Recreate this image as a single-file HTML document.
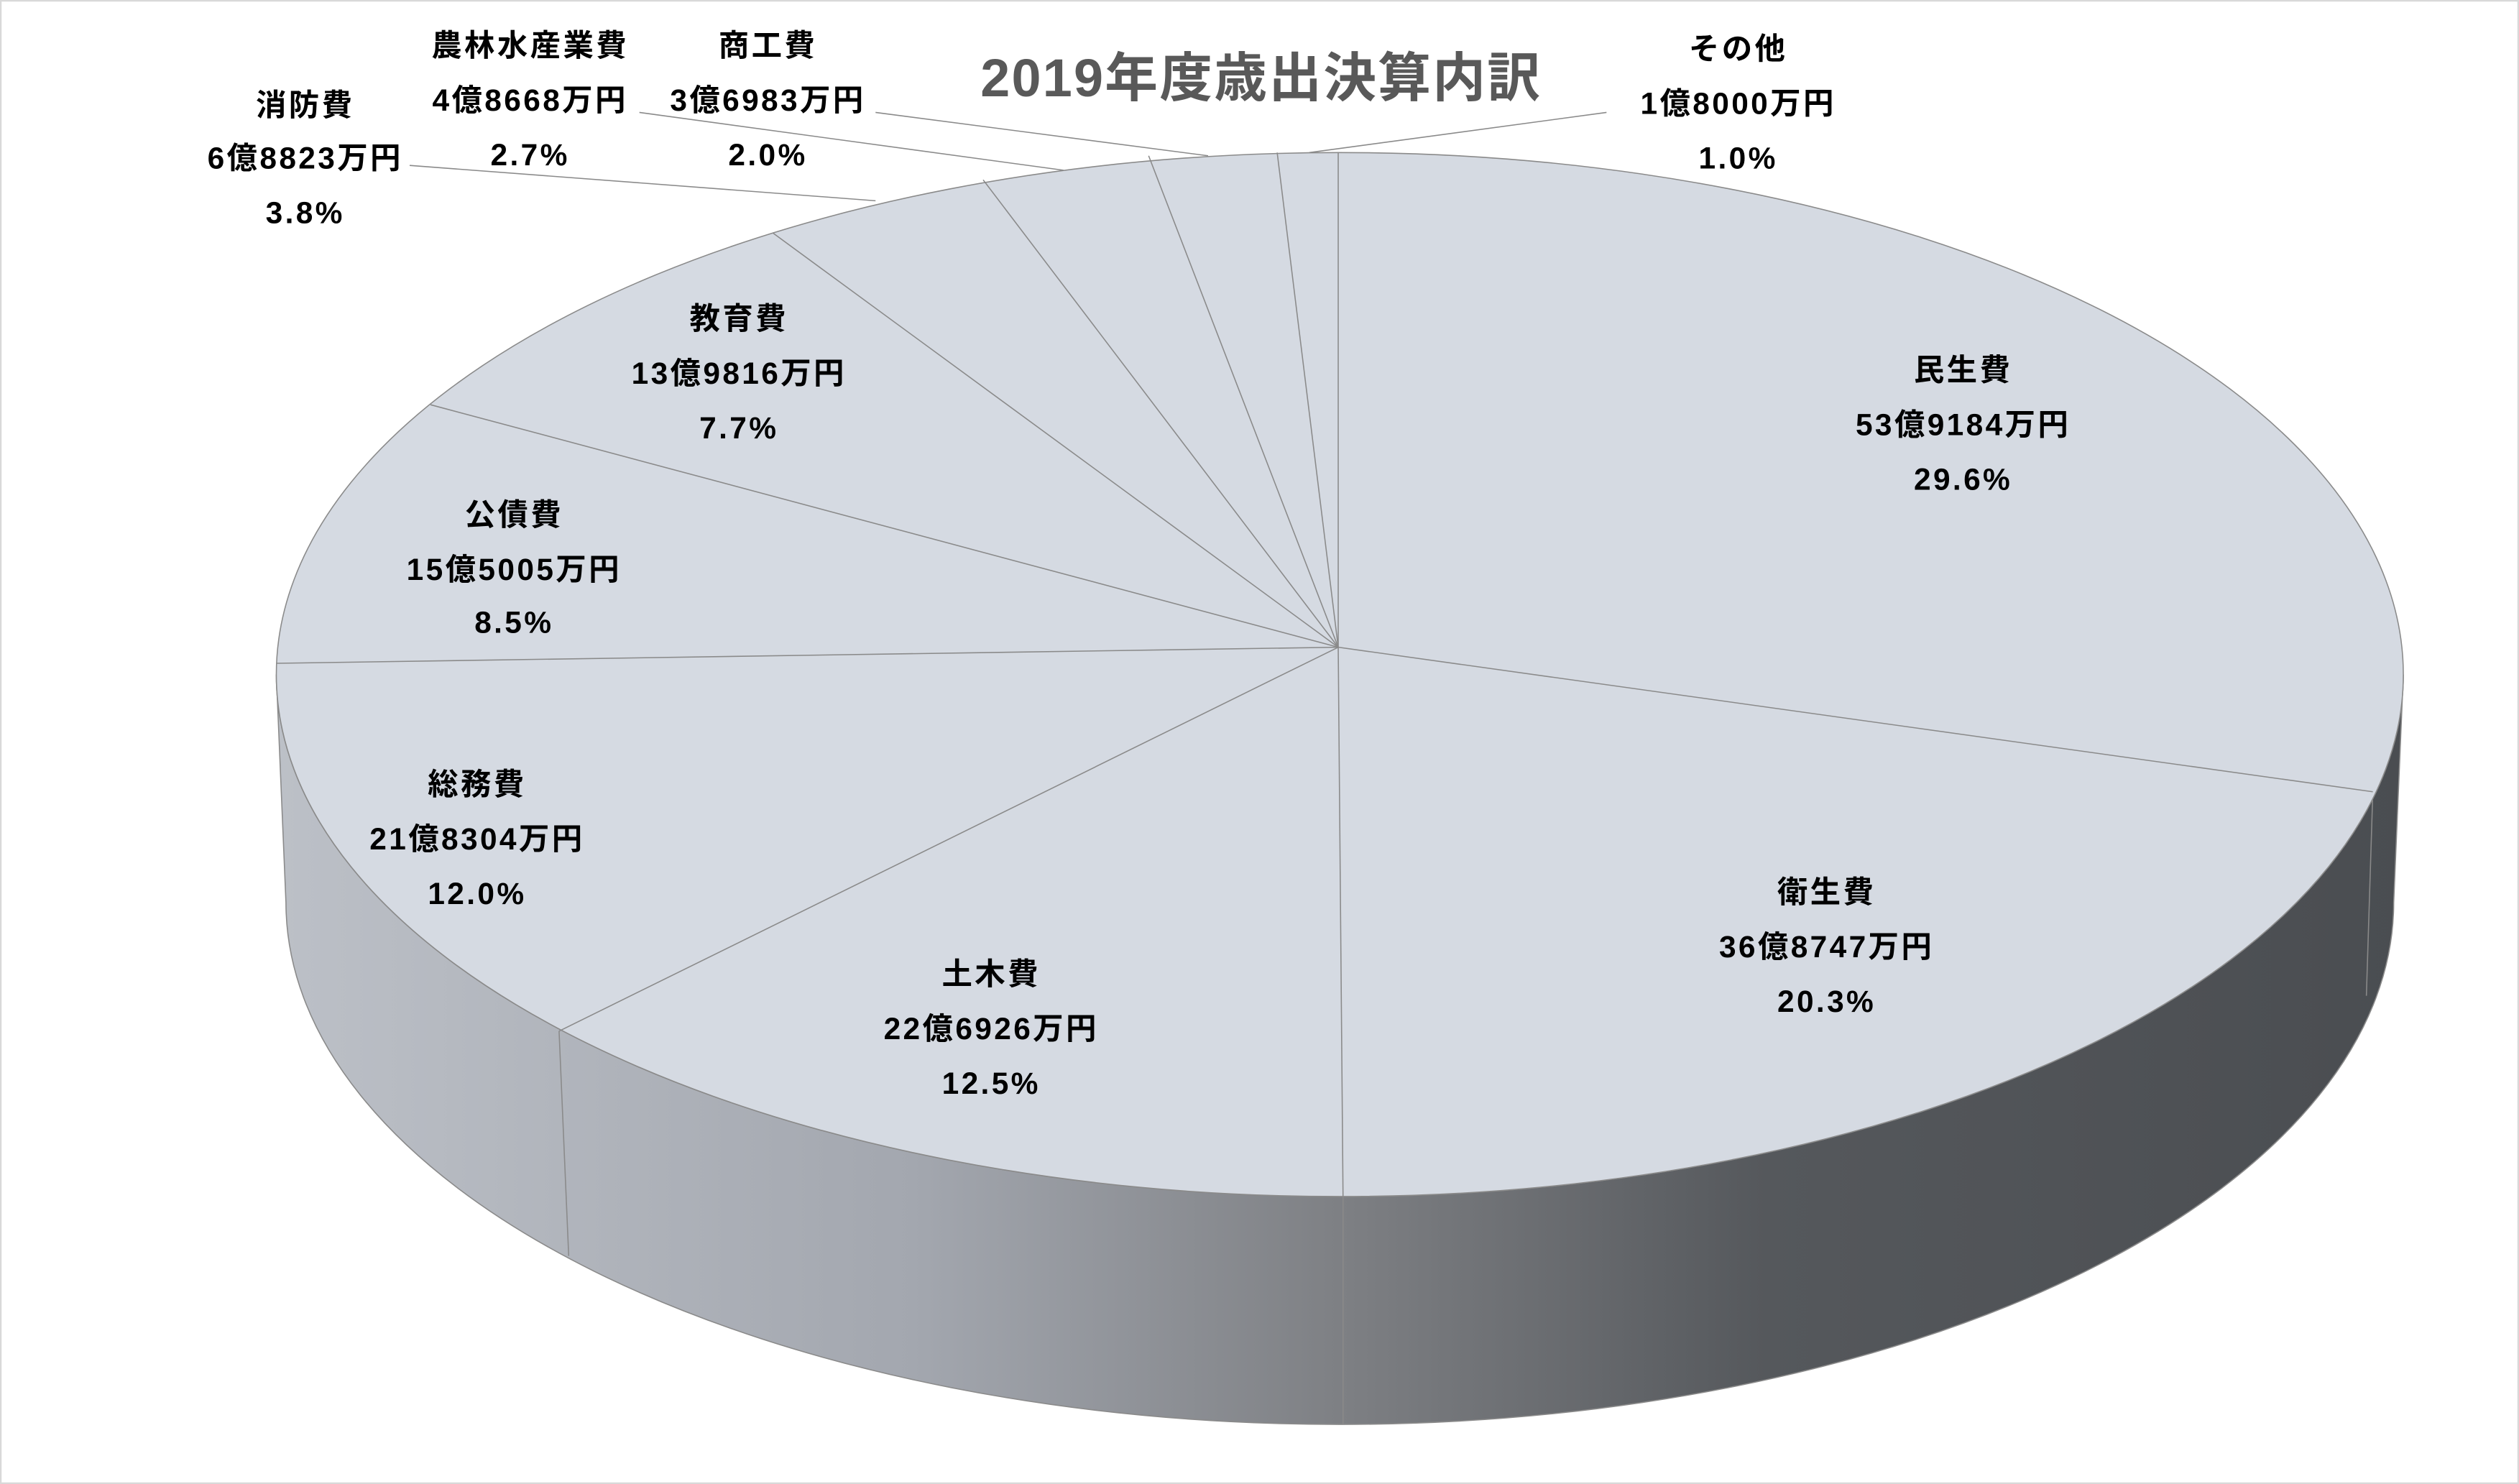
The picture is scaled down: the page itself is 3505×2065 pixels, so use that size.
<!DOCTYPE html>
<html><head><meta charset="utf-8"><style>
html,body{margin:0;padding:0;background:#fff;}
svg{display:block;}
text{font-family:"Liberation Sans","Noto Sans CJK JP",sans-serif;}
</style></head><body>
<svg width="3505" height="2065" viewBox="0 0 1568 924" preserveAspectRatio="none" xmlns="http://www.w3.org/2000/svg">
<defs>
<linearGradient id="g" x1="172" y1="0" x2="1496" y2="0" gradientUnits="userSpaceOnUse">
<stop offset="0" stop-color="#bcc0c7"/>
<stop offset="0.3" stop-color="#a3a7af"/>
<stop offset="0.5" stop-color="#7e8084"/>
<stop offset="0.7" stop-color="#55585c"/>
<stop offset="1" stop-color="#4a4d51"/>
</linearGradient>
</defs>
<rect x="0.5" y="0.5" width="1567" height="923" fill="#fff" stroke="#d9d9d9"/>
<path d="M172,420 A662,325 0 0 0 1496,420 L1490,562 A656,325 0 0 1 178,562 Z" fill="url(#g)" stroke="#8a8a8a" stroke-width="0.7"/>
<line x1="348" y1="642" x2="354" y2="782" stroke="#8a8a8a" stroke-width="0.7"/>
<line x1="836" y1="745" x2="836" y2="887" stroke="#8a8a8a" stroke-width="0.7"/>
<line x1="1477" y1="493" x2="1473" y2="620" stroke="#8a8a8a" stroke-width="0.7"/>
<ellipse cx="834" cy="420" rx="662" ry="325" fill="#d5dae2" stroke="#8a8a8a" stroke-width="0.7"/>
<g stroke="#8a8a8a" stroke-width="0.7">
<line x1="833" y1="403" x2="833" y2="95"/>
<line x1="833" y1="403" x2="1477" y2="493"/>
<line x1="833" y1="403" x2="836" y2="745"/>
<line x1="833" y1="403" x2="348" y2="642"/>
<line x1="833" y1="403" x2="172" y2="413"/>
<line x1="833" y1="403" x2="268" y2="252"/>
<line x1="833" y1="403" x2="481" y2="145"/>
<line x1="833" y1="403" x2="612" y2="112"/>
<line x1="833" y1="403" x2="715" y2="97"/>
<line x1="833" y1="403" x2="795" y2="95"/>
<line x1="255" y1="103" x2="545" y2="125"/>
<line x1="398" y1="70" x2="662" y2="106"/>
<line x1="545" y1="70" x2="752" y2="97"/>
<line x1="1000" y1="70" x2="815" y2="95"/>
</g>
<text x="785" y="60" font-size="33" font-weight="bold" fill="#595959" text-anchor="middle" letter-spacing="1">2019年度歳出決算内訳</text>
<g font-size="19" font-weight="bold" fill="#000" text-anchor="middle" letter-spacing="1.5">
<text x="1222" y="237">民生費</text><text x="1222" y="271">53億9184万円</text><text x="1222" y="305">29.6%</text>
<text x="1137" y="562">衛生費</text><text x="1137" y="596">36億8747万円</text><text x="1137" y="630">20.3%</text>
<text x="617" y="613">土木費</text><text x="617" y="647">22億6926万円</text><text x="617" y="681">12.5%</text>
<text x="297" y="495">総務費</text><text x="297" y="529">21億8304万円</text><text x="297" y="563">12.0%</text>
<text x="320" y="327">公債費</text><text x="320" y="361">15億5005万円</text><text x="320" y="394">8.5%</text>
<text x="460" y="205">教育費</text><text x="460" y="239">13億9816万円</text><text x="460" y="273">7.7%</text>
<text x="190" y="72">消防費</text><text x="190" y="105">6億8823万円</text><text x="190" y="139">3.8%</text>
<text x="330" y="35">農林水産業費</text><text x="330" y="69">4億8668万円</text><text x="330" y="103">2.7%</text>
<text x="478" y="35">商工費</text><text x="478" y="69">3億6983万円</text><text x="478" y="103">2.0%</text>
<text x="1082" y="37">その他</text><text x="1082" y="71">1億8000万円</text><text x="1082" y="105">1.0%</text>
</g>
</svg>
</body></html>
